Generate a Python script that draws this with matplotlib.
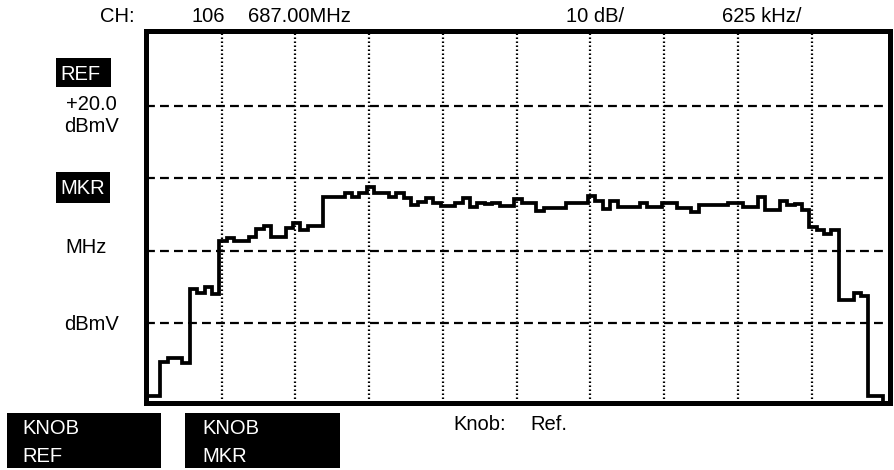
import numpy as np
import matplotlib
matplotlib.use("Agg")
import matplotlib.pyplot as plt
from matplotlib.patches import Rectangle

plt.rcParams["font.family"] = ["Liberation Sans", "DejaVu Sans"]

W, H = 895, 470

# analyzer settings shown in the header
channel = "106"
center_label = "687.00MHz"
scale_label = "10 dB/"
span_label = "625 kHz/"

ref_level = 20.0        # dBmV at the top graticule line
db_per_div = 10.0
center_mhz = 687.00
mhz_per_div = 0.625
n_div_x = 10
n_div_y = 5

# measured level per 62.5 kHz bin, dBmV
trace_dbmv = [
    -30.0, -30.0, -25.3, -24.85, -24.85, -25.5, -15.2, -15.8, -15.0, -15.9,
    -8.65, -8.2, -8.7, -8.7, -8.05, -7.0, -6.6, -8.05, -8.05, -6.9,
    -6.1, -7.1, -6.6, -6.6, -2.6, -2.6, -2.6, -2.05, -2.6, -2.0,
    -1.15, -2.05, -2.05, -2.6, -2.0, -2.75, -3.7, -3.2, -2.75, -3.35,
    -3.8, -3.8, -3.35, -2.75, -3.9, -3.45, -3.5, -3.45, -3.8, -3.8,
    -2.9, -3.35, -3.35, -4.45, -4.1, -4.1, -4.1, -3.35, -3.35, -3.4,
    -2.45, -3.1, -4.25, -3.1, -4.0, -4.0, -4.0, -3.45, -4.0, -4.0,
    -3.35, -3.35, -4.1, -4.1, -4.6, -3.7, -3.7, -3.7, -3.7, -3.45,
    -3.45, -4.0, -4.0, -2.5, -4.35, -4.35, -3.1, -3.7, -3.55, -4.35,
    -6.7, -7.1, -7.7, -7.1, -16.8, -16.8, -15.8, -16.25, -30.0, -30.0,
]

f_lo = center_mhz - mhz_per_div * n_div_x / 2
f_hi = center_mhz + mhz_per_div * n_div_x / 2
bottom_level = ref_level - db_per_div * n_div_y
bin_mhz = (f_hi - f_lo) / len(trace_dbmv)
edges = f_lo - 0.021 + bin_mhz * np.arange(len(trace_dbmv) + 1)


def fx(px):
    return px / W


def fy(py):
    return 1 - py / H


fig = plt.figure(figsize=(W / 100, H / 100), dpi=100)
ax = fig.add_axes([fx(146.5), fy(402.5), 744 / W, 372 / H])

px_per_mhz = 73.75 / mhz_per_div
px_per_db = 72.4 / db_per_div
ax.set_xlim(f_lo - 1.5 / px_per_mhz, f_lo + 742.5 / px_per_mhz)
ax.set_ylim(bottom_level - 6.8 / px_per_db, ref_level + 3.1 / px_per_db)

# graticule
for k in range(1, n_div_x):
    ax.axvline(f_lo + k * mhz_per_div, color="black", lw=1.6,
               ls=(0, (0.7, 1.1)), zorder=1)
for k in range(1, n_div_y):
    ax.axhline(ref_level - k * db_per_div, color="black", lw=1.6,
               ls=(0, (4, 2.3)), zorder=1)

ax.stairs(trace_dbmv, edges, baseline=bottom_level - 2, color="black",
          lw=2.7, zorder=3)

ax.set_xticks([])
ax.set_yticks([])
for s in ax.spines.values():
    s.set_linewidth(3.6)
    s.set_zorder(4)

fs = 14.5

# header readout
fig.text(fx(100), fy(16), "CH:", fontsize=fs, va="center")
fig.text(fx(192), fy(16), channel, fontsize=fs, va="center")
fig.text(fx(248), fy(16), center_label, fontsize=fs, va="center")
fig.text(fx(566), fy(16), scale_label, fontsize=fs, va="center")
fig.text(fx(722), fy(16), span_label, fontsize=fs, va="center")


def black_box(x0, y0, x1, y1):
    fig.add_artist(Rectangle((fx(x0), fy(y1)), fx(x1) - fx(x0), fy(y0) - fy(y1),
                             transform=fig.transFigure, facecolor="black",
                             edgecolor="none"))


# left side labels
black_box(56, 58, 111, 87)
fig.text(fx(60), fy(74), "REF", fontsize=fs, color="white", va="center")
fig.text(fx(66), fy(105), "+20.0", fontsize=fs, va="center")
fig.text(fx(64), fy(126), "dBmV", fontsize=fs, va="center")
black_box(56, 172, 110, 203)
fig.text(fx(60), fy(189), "MKR", fontsize=fs, color="white", va="center")
fig.text(fx(65), fy(247), "MHz", fontsize=fs, va="center")
fig.text(fx(64), fy(325), "dBmV", fontsize=fs, va="center")

# soft key boxes
black_box(7, 413, 161, 468)
fig.text(fx(22), fy(429), "KNOB", fontsize=fs, color="white", va="center")
fig.text(fx(22), fy(456), "REF", fontsize=fs, color="white", va="center")
black_box(185, 413, 340, 468)
fig.text(fx(202), fy(429), "KNOB", fontsize=fs, color="white", va="center")
fig.text(fx(202), fy(456), "MKR", fontsize=fs, color="white", va="center")

fig.text(fx(453), fy(424), "Knob:", fontsize=fs, va="center")
fig.text(fx(530), fy(424), "Ref.", fontsize=fs, va="center")

fig.savefig("out.png", dpi=100)
